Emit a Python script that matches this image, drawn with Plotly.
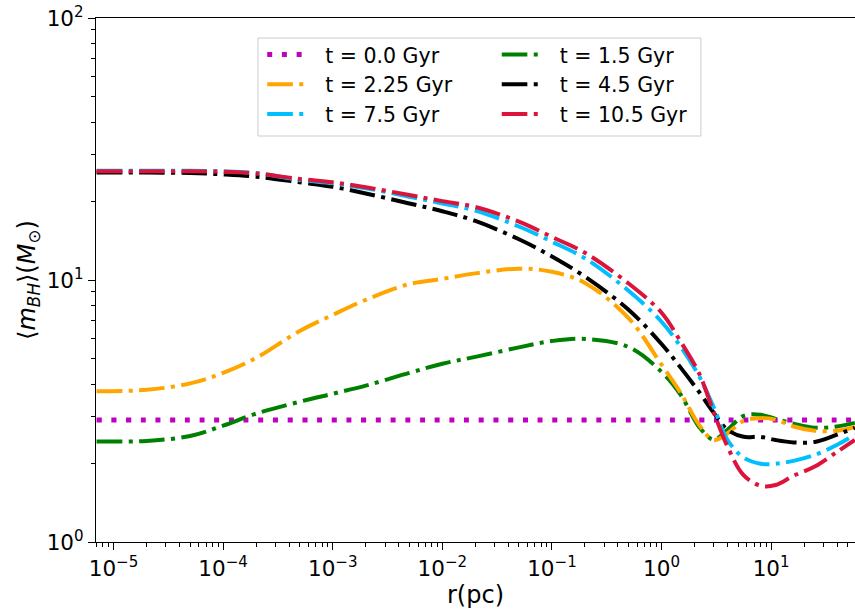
import plotly.graph_objects as go

# radius (pc)
r = [7e-6, 2e-5, 5e-5, 1e-4, 2e-4, 5e-4, 1e-3, 2e-3, 5e-3, 1e-2, 2e-2, 5e-2,
     0.1, 0.2, 0.5, 1.0, 1.5, 2.2, 3.0, 4.0, 5.6, 8.0, 11.0, 16.0, 25.0, 40.0, 58.0]

m_t00 = [2.92] * len(r)
m_t15 = [2.42, 2.43, 2.54, 2.78, 3.09, 3.43, 3.68, 3.95, 4.42, 4.79, 5.09, 5.53,
         5.85, 5.96, 5.55, 4.46, 3.64, 2.75, 2.46, 2.68, 3.03, 3.06, 2.95, 2.83,
         2.73, 2.76, 2.85]
m_t225 = [3.76, 3.81, 4.03, 4.42, 5.04, 6.39, 7.36, 8.40, 9.65, 10.1, 10.6, 11.05,
          10.75, 9.75, 7.15, 4.75, 3.70, 2.80, 2.45, 2.60, 2.90, 2.97, 2.93, 2.76,
          2.66, 2.66, 2.75]
m_t45 = [25.7, 25.7, 25.6, 25.3, 24.8, 23.6, 22.7, 21.4, 19.6, 18.3, 16.8, 14.3,
         12.3, 10.3, 7.70, 5.70, 4.62, 3.74, 3.11, 2.68, 2.52, 2.52, 2.45, 2.40,
         2.41, 2.57, 2.73]
m_t75 = [26.1, 26.1, 26.1, 26.0, 25.6, 24.1, 23.4, 22.4, 20.8, 19.6, 18.4, 16.0,
         14.0, 12.1, 9.10, 6.93, 5.55, 4.30, 3.26, 2.45, 2.10, 1.99, 1.99, 2.04,
         2.15, 2.35, 2.57]
m_t105 = [26.0, 26.0, 26.0, 25.9, 25.5, 24.3, 23.6, 22.6, 21.1, 20.0, 19.0, 16.7,
          14.6, 12.7, 9.70, 7.50, 5.80, 4.40, 3.12, 2.31, 1.80, 1.64, 1.65, 1.79,
          1.94, 2.21, 2.45]

labels = ["t = 0.0 Gyr", "t = 1.5 Gyr", "t = 2.25 Gyr",
          "t = 4.5 Gyr", "t = 7.5 Gyr", "t = 10.5 Gyr"]
series = [m_t00, m_t15, m_t225, m_t45, m_t75, m_t105]
colors = ["#BF00BF", "#008000", "#FFA500", "#000000", "#00BFFF", "#DC143C"]
legends = ["legend", "legend2", "legend", "legend2", "legend", "legend2"]

xtickvals = [1e-5, 1e-4, 1e-3, 1e-2, 1e-1, 1, 10]
xticktext = ["10<sup>\u22125</sup>", "10<sup>\u22124</sup>", "10<sup>\u22123</sup>",
             "10<sup>\u22122</sup>", "10<sup>\u22121</sup>", "10<sup>0</sup>",
             "10<sup>1</sup>"]
ytickvals = [1, 10, 100]
yticktext = ["10<sup>0</sup>", "10<sup>1</sup>", "10<sup>2</sup>"]

dashdot = "25.6px,6.4px,4px,6.4px"
dotted = "5px,9.7px"

fig = go.Figure()
for i, (lab, ys, col, lg) in enumerate(zip(labels, series, colors, legends)):
    fig.add_trace(go.Scatter(
        x=r, y=ys, mode="lines", name="\u00a0\u00a0" + lab, legend=lg, legendgroup=lab,
        line=dict(color=col, width=5 if i == 0 else 4,
                  dash=dotted if i == 0 else dashdot,
                  shape="spline", smoothing=1.0),
    ))

font = "DejaVu Sans"
legfont = dict(family=font, size=20.5, color="#000000")
fig.update_layout(
    width=855, height=611,
    margin=dict(l=96, r=0, t=18, b=69),
    paper_bgcolor="white", plot_bgcolor="white",
    font=dict(family=font, color="black"),
    showlegend=True,
    legend=dict(x=0.219, y=0.968, xanchor="left", yanchor="top",
                bgcolor="rgba(0,0,0,0)", font=legfont, itemwidth=40,
                tracegroupgap=0, orientation="v"),
    legend2=dict(x=0.528, y=0.968, xanchor="left", yanchor="top",
                 bgcolor="rgba(0,0,0,0)", font=legfont, itemwidth=40,
                 tracegroupgap=0, orientation="v"),
    shapes=[dict(type="rect", xref="paper", yref="paper",
                 x0=0.2134, x1=0.797, y0=0.7748, y1=0.9618,
                 line=dict(color="#cccccc", width=1),
                 fillcolor="rgba(255,255,255,0.8)", layer="below")],
)
fig.update_xaxes(
    type="log", range=[-5.16, 1.765],
    tickmode="array", tickvals=xtickvals, ticktext=xticktext,
    showgrid=False, zeroline=False, showline=True, linecolor="black",
    linewidth=1.2, mirror=True, ticks="outside", ticklen=7, tickwidth=1.2,
    tickcolor="black", tickfont=dict(family=font, size=21.5),
    minor=dict(ticks="outside", ticklen=4, tickwidth=1, tickcolor="black",
               dtick="D1", showgrid=False),
    title=dict(text="r(pc)", font=dict(family=font, size=24), standoff=2),
)
fig.update_yaxes(
    type="log", range=[0, 2],
    tickmode="array", tickvals=ytickvals, ticktext=yticktext,
    showgrid=False, zeroline=False, showline=True, linecolor="black",
    linewidth=1.2, mirror=False, ticks="outside", ticklen=7, tickwidth=1.2,
    tickcolor="black", tickfont=dict(family=font, size=21.5),
    minor=dict(ticks="outside", ticklen=4, tickwidth=1, tickcolor="black",
               dtick="D1", showgrid=False),
    title=dict(text="\u27e8<i>m</i><sub><i>BH</i></sub>\u27e9(<i>M</i><sub>\u2299</sub>)",
               font=dict(family=font, size=24), standoff=4),
)

fig.write_html("out.html")
